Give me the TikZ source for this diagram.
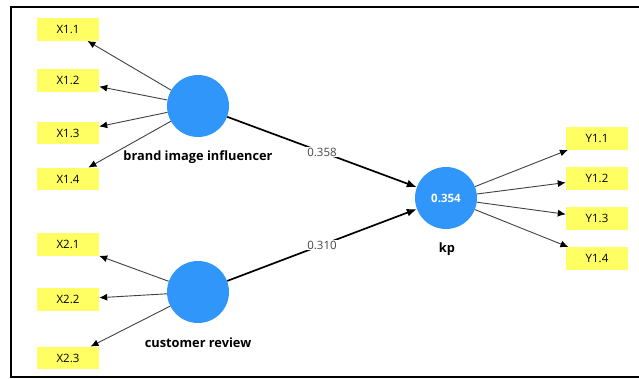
\documentclass[tikz,border=0pt]{standalone}
\usepackage{fontspec}
\setmainfont{Open Sans}
\usepackage{tikz}
\usetikzlibrary{arrows.meta}
\definecolor{lvblue}{RGB}{48,150,250}
\definecolor{mvyellow}{RGB}{255,255,100}
\tikzstyle{ind}=[rectangle,fill=mvyellow,minimum width=62pt,minimum height=22.5pt,inner sep=0pt,font=\fontsize{11.5}{13}\selectfont]
\tikzstyle{lv}=[circle,fill=lvblue,minimum size=62pt,inner sep=0pt,text=white,font=\bfseries\fontsize{11.5}{13}\selectfont]
\tikzstyle{lvname}=[font=\bfseries\fontsize{12.8}{15}\selectfont]
\tikzstyle{load}=[->,draw=black!75,line width=0.9pt,>={Latex[length=8pt,width=7pt,black]}]
\tikzstyle{coef}=[->,line width=1.7pt,>={Latex[length=10pt,width=8pt]}]
\tikzstyle{coefval}=[fill=white,inner sep=1pt,text=black!72,font=\fontsize{11.5}{13}\selectfont]

\begin{document}
\begin{tikzpicture}[x=1pt,y=-1pt]

  \useasboundingbox (0,0) rectangle (639,379);
  \draw[line width=1.5pt] (639,7)--(11,7)--(11,377)--(639,377);

  \node[lv] (B) at (198,106) {};
  \node[lv] (C) at (198,292) {};
  \node[lv] (K) at (446,198) {0.354};
  \node[lvname] (Bl) at (198,157) {brand image influencer};
  \node[lvname] (Cl) at (198,343) {customer review};
  \node[lvname] (Kl) at (447,249) {kp};

  \node[ind] (X11) at (68,29.5) {X1.1};
  \node[ind] (X12) at (68,80.5) {X1.2};
  \node[ind] (X13) at (68,133) {X1.3};
  \node[ind] (X14) at (68,179) {X1.4};
  \node[ind] (X21) at (68,244.5) {X2.1};
  \node[ind] (X22) at (68,299.5) {X2.2};
  \node[ind] (X23) at (68,358) {X2.3};
  \node[ind] (Y11) at (597,138.5) {Y1.1};
  \node[ind] (Y12) at (597,178.5) {Y1.2};
  \node[ind] (Y13) at (597,218.5) {Y1.3};
  \node[ind] (Y14) at (597,258.5) {Y1.4};

  \draw[load] (B)--(X11); \draw[load] (B)--(X12); \draw[load] (B)--(X13); \draw[load] (B)--(X14);
  \draw[load] (C)--(X21); \draw[load] (C)--(X22); \draw[load] (C)--(X23);
  \draw[load] (K)--(Y11); \draw[load] (K)--(Y12); \draw[load] (K)--(Y13); \draw[load] (K)--(Y14);
  % les coefficients
  \draw[coef] (B)--(K) node[coefval,midway] (P1) {0.358};
  \draw[coef] (C)--(K) node[coefval,midway] (P2) {0.310};

\end{tikzpicture}
\end{document}
